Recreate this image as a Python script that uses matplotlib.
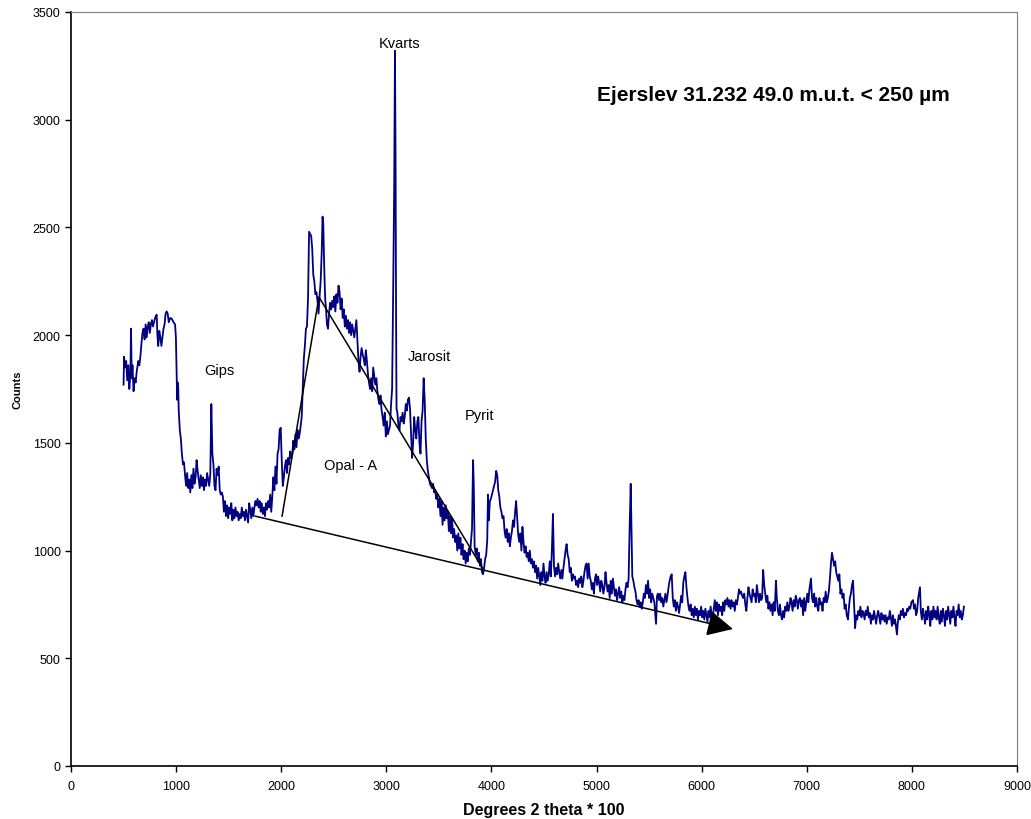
import matplotlib
matplotlib.use("Agg")
import matplotlib.pyplot as plt

plt.rcParams['font.family'] = ['Liberation Sans', 'DejaVu Sans']

# Diffractogram: angle (degrees 2 theta * 100) and counts
two_theta = [
    500, 505, 515, 525, 535, 545, 555, 565, 571, 578, 585, 595, 605, 615, 625, 640, 650, 660, 670, 680,
    690, 700, 710, 720, 730, 740, 750, 760, 770, 780, 790, 800, 815, 822, 830, 840, 850, 860, 870, 880,
    890, 900, 910, 920, 930, 945, 960, 975, 990, 998, 1005, 1010, 1015, 1020, 1025, 1035, 1045, 1055, 1065, 1075,
    1085, 1095, 1105, 1115, 1125, 1135, 1145, 1155, 1165, 1175, 1185, 1195, 1205, 1215, 1225, 1235, 1245, 1255, 1265, 1275,
    1285, 1295, 1305, 1315, 1325, 1335, 1345, 1355, 1365, 1375, 1385, 1395, 1405, 1415, 1425, 1435, 1445, 1455, 1465, 1475,
    1485, 1495, 1505, 1515, 1525, 1535, 1545, 1555, 1565, 1575, 1585, 1595, 1605, 1615, 1625, 1635, 1645, 1655, 1665, 1675,
    1685, 1695, 1705, 1715, 1725, 1735, 1745, 1755, 1765, 1775, 1785, 1795, 1805, 1815, 1825, 1835, 1845, 1855, 1865, 1875,
    1885, 1895, 1905, 1915, 1925, 1935, 1945, 1955, 1965, 1975, 1985, 1995, 2005, 2015, 2025, 2035, 2045, 2055, 2065, 2075,
    2085, 2095, 2105, 2115, 2125, 2135, 2145, 2155, 2165, 2175, 2185, 2195, 2205, 2215, 2225, 2235, 2245, 2255, 2265, 2275,
    2285, 2295, 2305, 2315, 2325, 2335, 2345, 2355, 2365, 2375, 2385, 2393, 2400, 2410, 2418, 2425, 2435, 2445, 2455, 2465,
    2475, 2485, 2495, 2505, 2515, 2525, 2535, 2545, 2555, 2565, 2575, 2585, 2595, 2605, 2615, 2625, 2635, 2645, 2655, 2665,
    2675, 2685, 2695, 2705, 2715, 2725, 2735, 2745, 2755, 2765, 2775, 2785, 2795, 2805, 2815, 2825, 2835, 2845, 2855, 2865,
    2875, 2885, 2895, 2905, 2915, 2925, 2935, 2945, 2955, 2965, 2975, 2985, 2995, 3005, 3015, 3025, 3035, 3045, 3055, 3065,
    3075, 3082, 3088, 3092, 3097, 3105, 3115, 3125, 3135, 3145, 3155, 3165, 3175, 3185, 3195, 3205, 3215, 3225, 3235, 3245,
    3255, 3265, 3275, 3285, 3295, 3305, 3315, 3325, 3335, 3345, 3355, 3365, 3375, 3385, 3395, 3405, 3415, 3425, 3435, 3445,
    3455, 3465, 3475, 3485, 3495, 3505, 3515, 3525, 3535, 3545, 3555, 3565, 3575, 3585, 3595, 3605, 3615, 3625, 3635, 3645,
    3655, 3665, 3675, 3685, 3695, 3705, 3715, 3725, 3735, 3745, 3755, 3765, 3775, 3785, 3795, 3805, 3815, 3825, 3832, 3840,
    3850, 3860, 3870, 3880, 3890, 3900, 3910, 3920, 3930, 3940, 3950, 3960, 3967, 3975, 3985, 3995, 4005, 4015, 4025, 4035,
    4045, 4055, 4065, 4075, 4085, 4095, 4105, 4115, 4125, 4135, 4145, 4155, 4165, 4175, 4185, 4195, 4205, 4215, 4225, 4235,
    4245, 4255, 4265, 4275, 4285, 4295, 4305, 4315, 4325, 4335, 4345, 4355, 4365, 4375, 4385, 4395, 4405, 4415, 4425, 4435,
    4445, 4455, 4465, 4475, 4485, 4495, 4505, 4515, 4525, 4535, 4545, 4555, 4565, 4575, 4585, 4595, 4605, 4615, 4625, 4635,
    4645, 4655, 4665, 4675, 4685, 4695, 4705, 4715, 4725, 4735, 4745, 4755, 4765, 4775, 4785, 4795, 4805, 4815, 4825, 4835,
    4845, 4855, 4865, 4875, 4885, 4895, 4905, 4915, 4925, 4935, 4945, 4955, 4965, 4975, 4985, 4995, 5005, 5015, 5025, 5035,
    5045, 5055, 5065, 5075, 5085, 5095, 5105, 5115, 5125, 5135, 5145, 5155, 5165, 5175, 5185, 5195, 5205, 5215, 5225, 5235,
    5245, 5255, 5265, 5275, 5285, 5295, 5305, 5315, 5325, 5332, 5340, 5350, 5360, 5370, 5380, 5390, 5400, 5410, 5420, 5430,
    5440, 5450, 5460, 5470, 5480, 5490, 5500, 5510, 5520, 5530, 5540, 5550, 5560, 5566, 5575, 5585, 5595, 5605, 5615, 5625,
    5635, 5645, 5655, 5665, 5675, 5685, 5695, 5705, 5715, 5725, 5735, 5745, 5755, 5765, 5775, 5785, 5795, 5805, 5815, 5825,
    5835, 5845, 5855, 5865, 5875, 5885, 5895, 5905, 5915, 5925, 5935, 5945, 5955, 5965, 5975, 5985, 5995, 6005, 6015, 6025,
    6035, 6045, 6055, 6065, 6075, 6085, 6095, 6105, 6115, 6125, 6135, 6145, 6155, 6165, 6175, 6185, 6195, 6205, 6215, 6225,
    6235, 6245, 6255, 6265, 6275, 6285, 6295, 6305, 6315, 6325, 6335, 6345, 6355, 6365, 6375, 6385, 6395, 6405, 6415, 6425,
    6435, 6445, 6455, 6465, 6475, 6485, 6495, 6505, 6515, 6525, 6535, 6545, 6555, 6565, 6575, 6585, 6595, 6605, 6615, 6625,
    6635, 6645, 6655, 6665, 6675, 6685, 6695, 6707, 6715, 6725, 6735, 6745, 6755, 6765, 6775, 6785, 6795, 6805, 6815, 6825,
    6835, 6845, 6855, 6865, 6875, 6885, 6895, 6905, 6915, 6925, 6935, 6945, 6955, 6965, 6975, 6985, 6995, 7005, 7015, 7025,
    7040, 7050, 7060, 7070, 7080, 7090, 7100, 7110, 7120, 7130, 7140, 7150, 7160, 7170, 7180, 7190, 7200, 7210, 7220, 7230,
    7240, 7250, 7260, 7270, 7280, 7290, 7300, 7310, 7320, 7330, 7340, 7350, 7360, 7370, 7380, 7392, 7400, 7410, 7420, 7430,
    7440, 7450, 7460, 7470, 7480, 7490, 7500, 7510, 7520, 7530, 7540, 7550, 7560, 7570, 7580, 7590, 7600, 7610, 7620, 7630,
    7640, 7650, 7660, 7670, 7680, 7690, 7700, 7710, 7720, 7730, 7740, 7750, 7760, 7770, 7780, 7790, 7800, 7810, 7820, 7830,
    7840, 7850, 7858, 7865, 7875, 7885, 7895, 7905, 7915, 7925, 7935, 7945, 7955, 7965, 7975, 7985, 7995, 8011, 8020, 8030,
    8040, 8050, 8060, 8077, 8085, 8095, 8105, 8115, 8125, 8135, 8145, 8155, 8165, 8175, 8185, 8195, 8205, 8215, 8225, 8235,
    8245, 8255, 8265, 8275, 8285, 8295, 8305, 8315, 8325, 8335, 8345, 8355, 8365, 8375, 8385, 8395, 8405, 8415, 8425, 8435,
    8445, 8455, 8465, 8475, 8485, 8495,
]

counts = [
    1770, 1900, 1850, 1880, 1790, 1860, 1750, 1820, 2030, 1800, 1860, 1740, 1800, 1780, 1830, 1880, 1860, 1900, 1960, 2010,
    2030, 1980, 2050, 1990, 2040, 2060, 2010, 2050, 2070, 2040, 2060, 2080, 2095, 2000, 1950, 2020, 1990, 1950, 1990, 2030,
    2050, 2100, 2110, 2100, 2060, 2080, 2075, 2060, 2050, 1990, 1820, 1700, 1780, 1760, 1650, 1560, 1520, 1450, 1400, 1410,
    1350, 1300, 1360, 1290, 1330, 1270, 1350, 1290, 1380, 1310, 1340, 1420, 1370, 1330, 1290, 1350, 1300, 1340, 1280, 1330,
    1300, 1360, 1330, 1300, 1350, 1680, 1450, 1400, 1300, 1280, 1380, 1350, 1390, 1280, 1260, 1270, 1250, 1180, 1230, 1160,
    1210, 1150, 1200, 1170, 1220, 1140, 1190, 1150, 1200, 1160, 1180, 1140, 1170, 1150, 1200, 1160, 1180, 1140, 1190, 1160,
    1130, 1220, 1190, 1150, 1200, 1160, 1200, 1230, 1210, 1240, 1200, 1230, 1180, 1220, 1170, 1200, 1160, 1220, 1190, 1230,
    1200, 1260, 1180, 1250, 1340, 1280, 1390, 1310, 1450, 1470, 1560, 1570, 1420, 1300, 1340, 1390, 1420, 1360, 1430, 1400,
    1460, 1430, 1450, 1510, 1470, 1540, 1480, 1560, 1520, 1540, 1580, 1620, 1750, 1890, 1950, 2030, 2040, 2170, 2480, 2470,
    2460, 2400, 2280, 2250, 2190, 2200, 2160, 2100, 2180, 2250, 2380, 2550, 2520, 2300, 2170, 2130, 2050, 2030, 2100, 2150,
    2120, 2160, 2130, 2180, 2110, 2190, 2150, 2230, 2200, 2120, 2170, 2080, 2120, 2040, 2090, 2030, 2070, 2010, 2060, 2000,
    2050, 2020, 1990, 2030, 2070, 1970, 1880, 1830, 1900, 1940, 1910, 1890, 1860, 1930, 1880, 1820, 1780, 1750, 1800, 1740,
    1850, 1810, 1770, 1800, 1740, 1700, 1680, 1720, 1650, 1620, 1580, 1640, 1530, 1600, 1540, 1560, 1580, 1680, 1750, 2200,
    2700, 3320, 2800, 2150, 1660, 1640, 1580, 1560, 1620, 1600, 1640, 1590, 1620, 1680, 1650, 1700, 1710, 1660, 1540, 1430,
    1500, 1620, 1560, 1520, 1600, 1620, 1500, 1450, 1600, 1650, 1800, 1700, 1520, 1420, 1370, 1340, 1310, 1300, 1290, 1310,
    1270, 1280, 1240, 1260, 1200, 1240, 1160, 1230, 1120, 1200, 1140, 1210, 1150, 1180, 1090, 1160, 1080, 1150, 1060, 1100,
    1040, 1070, 1000, 1080, 1010, 1060, 980, 1030, 960, 1000, 940, 990, 950, 1010, 980, 1040, 1100, 1420, 1300, 1020,
    980, 1010, 950, 990, 930, 960, 900, 890, 920, 960, 980, 1050, 1260, 1140, 1230, 1240, 1260, 1280, 1300, 1320,
    1370, 1350, 1280, 1250, 1200, 1180, 1150, 1160, 1090, 1060, 1100, 1040, 1080, 1020, 1060, 1090, 1140, 1110, 1180, 1230,
    1150, 1070, 1040, 1080, 1000, 1110, 1040, 990, 1020, 970, 990, 950, 1000, 940, 960, 920, 950, 900, 930, 870,
    920, 880, 840, 900, 860, 940, 880, 850, 900, 860, 890, 950, 880, 1000, 1170, 930, 880, 920, 890, 940,
    900, 870, 910, 870, 920, 960, 1000, 1030, 980, 960, 900, 920, 860, 890, 870, 880, 840, 860, 830, 870,
    850, 880, 830, 860, 900, 930, 940, 870, 940, 880, 860, 820, 850, 800, 870, 890, 840, 880, 850, 810,
    860, 840, 800, 830, 900, 850, 810, 840, 780, 860, 800, 870, 830, 790, 820, 770, 800, 830, 780, 810,
    760, 790, 770, 820, 850, 830, 870, 1110, 1310, 1100, 880, 860, 830, 810, 770, 750, 770, 740, 760, 730,
    760, 800, 780, 840, 800, 860, 780, 820, 760, 800, 780, 760, 700, 660, 790, 800, 770, 800, 760, 780,
    740, 770, 800, 760, 790, 830, 860, 880, 890, 780, 740, 770, 720, 760, 740, 710, 750, 790, 760, 850,
    880, 900, 830, 780, 740, 720, 750, 700, 730, 690, 740, 700, 730, 680, 720, 700, 740, 690, 720, 680,
    730, 700, 670, 720, 690, 740, 700, 680, 730, 770, 720, 760, 700, 750, 720, 740, 700, 760, 720, 770,
    750, 780, 740, 770, 730, 770, 740, 760, 720, 770, 750, 780, 820, 800, 810, 790, 780, 800, 750, 720,
    780, 830, 800, 780, 760, 820, 790, 800, 760, 840, 800, 760, 800, 770, 780, 910, 840, 800, 760, 790,
    730, 760, 720, 750, 700, 760, 720, 860, 780, 720, 700, 750, 700, 680, 720, 690, 740, 720, 760, 720,
    740, 780, 760, 720, 770, 740, 790, 770, 730, 770, 780, 740, 770, 700, 780, 720, 760, 800, 760, 820,
    870, 780, 760, 800, 740, 780, 740, 720, 780, 750, 760, 720, 780, 760, 810, 760, 780, 810, 870, 940,
    990, 960, 930, 950, 900, 880, 860, 890, 800, 820, 780, 800, 730, 750, 700, 680, 730, 780, 800, 840,
    860, 750, 640, 700, 680, 720, 700, 740, 690, 720, 710, 680, 720, 700, 740, 690, 710, 660, 700, 680,
    720, 690, 660, 700, 720, 690, 660, 710, 680, 700, 670, 700, 660, 690, 680, 720, 690, 650, 700, 660,
    680, 640, 610, 660, 700, 680, 720, 700, 730, 690, 710, 700, 730, 720, 740, 730, 760, 770, 730, 750,
    700, 720, 780, 830, 720, 680, 730, 700, 660, 720, 680, 740, 700, 650, 720, 680, 740, 690, 720, 680,
    740, 690, 660, 720, 670, 730, 700, 650, 720, 680, 740, 700, 660, 720, 690, 740, 690, 650, 720, 700,
    750, 690, 720, 680, 700, 740,
]

# Construction lines marking the amorphous (opal-A) hump and the background trend
hump_x = [2008, 2359, 3920]
hump_y = [1160, 2177, 914]
background_start = (1750, 1160)
background_end = (6298, 636)

fig = plt.figure(figsize=(10.31, 8.2), dpi=100)
ax = fig.add_axes([71 / 1031, 53 / 820, 946 / 1031, 754 / 820])

ax.plot(two_theta, counts, color='#000080', linewidth=1.3, zorder=3)
ax.plot(hump_x, hump_y, color='black', linewidth=1.1, zorder=4)
ax.annotate('', xy=background_end, xytext=background_start,
            arrowprops=dict(arrowstyle='-|>,head_length=0.8,head_width=0.4',
                            mutation_scale=20, color='black', lw=1.1,
                            shrinkA=0, shrinkB=0), zorder=4)

ax.set_xlim(0, 9000)
ax.set_ylim(0, 3500)
ax.set_xticks(range(0, 9001, 1000))
ax.set_yticks(range(0, 3501, 500))
ax.tick_params(axis='both', direction='out', length=4, width=1, labelsize=9, colors='black')
ax.tick_params(axis='x', pad=6)

for side in ('left', 'bottom'):
    ax.spines[side].set_color('black')
    ax.spines[side].set_linewidth(1.2)
for side in ('top', 'right'):
    ax.spines[side].set_color('#808080')
    ax.spines[side].set_linewidth(0.8)

ax.set_xlabel('Degrees 2 theta * 100', fontsize=11.5, fontweight='bold', labelpad=7)
ax.set_ylabel('Counts', fontsize=8, fontweight='bold', labelpad=7)

ax.text(5004, 3115, 'Ejerslev 31.232 49.0 m.u.t. < 250 µm', fontsize=15,
        fontweight='bold', ha='left', va='center')
label_kw = dict(fontsize=10.5, ha='center', va='center')
ax.text(3130, 3356, 'Kvarts', **label_kw)
ax.text(1408, 1838, 'Gips', **label_kw)
ax.text(3406, 1903, 'Jarosit', **label_kw)
ax.text(3891, 1629, 'Pyrit', **label_kw)
ax.text(2664, 1397, 'Opal - A', **label_kw)

fig.savefig('out.png', dpi=100)
